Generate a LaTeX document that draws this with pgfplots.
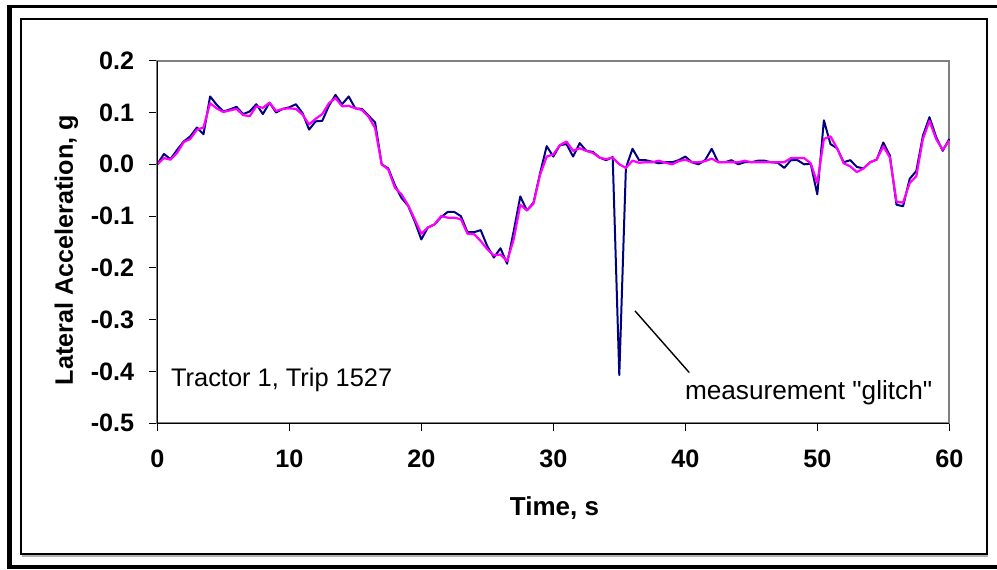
\documentclass[border=0pt]{standalone}
\usepackage{pgfplots}
\pgfplotsset{compat=1.18}
\usepackage{pgfplotstable}
\usepackage{fontspec}
\setmainfont{Liberation Sans}[Ligatures=TeXOff]
\definecolor{navyline}{HTML}{000080}
\definecolor{magline}{HTML}{FF00FF}
\definecolor{plotgray}{HTML}{808080}

\pgfplotstableread{
t v
0 0.000
0.5 0.020
1.0 0.010
1.5 0.028
2.0 0.044
2.5 0.054
3.0 0.071
3.5 0.058
4.0 0.131
4.5 0.115
5.0 0.102
5.5 0.106
6.0 0.111
6.5 0.097
7.0 0.102
7.5 0.116
8.0 0.097
8.5 0.119
9.0 0.100
9.5 0.107
10.0 0.110
10.5 0.116
11.0 0.099
11.5 0.067
12.0 0.083
12.5 0.084
13.0 0.113
13.5 0.134
14.0 0.116
14.5 0.131
15.0 0.108
15.5 0.107
16.0 0.094
16.5 0.081
17.0 0.000
17.5 -0.008
18.0 -0.040
18.5 -0.065
19.0 -0.080
19.5 -0.110
20.0 -0.145
20.5 -0.122
21.0 -0.116
21.5 -0.102
22.0 -0.092
22.5 -0.092
23.0 -0.100
23.5 -0.131
24.0 -0.131
24.5 -0.127
25.0 -0.158
25.5 -0.180
26.0 -0.162
26.5 -0.192
27.0 -0.129
27.5 -0.062
28.0 -0.089
28.5 -0.074
29.0 -0.017
29.5 0.035
30.0 0.015
30.5 0.037
31.0 0.039
31.5 0.015
32.0 0.041
32.5 0.026
33.0 0.024
33.5 0.013
34.0 0.008
34.5 0.014
35.0 -0.407
35.5 -0.007
36.0 0.030
36.5 0.008
37.0 0.008
37.5 0.005
38.0 0.002
38.5 0.004
39.0 0.004
39.5 0.008
40.0 0.015
40.5 0.004
41.0 0.000
41.5 0.008
42.0 0.030
42.5 0.004
43.0 0.004
43.5 0.008
44.0 0.000
44.5 0.004
45.0 0.004
45.5 0.007
46.0 0.007
46.5 0.004
47.0 0.003
47.5 -0.007
48.0 0.008
48.5 0.008
49.0 0.000
49.5 0.001
50.0 -0.058
50.5 0.085
51.0 0.039
51.5 0.031
52.0 0.004
52.5 0.008
53.0 -0.005
53.5 -0.008
54.0 0.004
54.5 0.009
55.0 0.042
55.5 0.017
56.0 -0.078
56.5 -0.081
57.0 -0.028
57.5 -0.013
58.0 0.055
58.5 0.091
59.0 0.053
59.5 0.026
60.0 0.049
}\rawdata

\pgfplotstableread{
t v
0 0.000
0.5 0.012
1.0 0.009
1.5 0.022
2.0 0.043
2.5 0.049
3.0 0.067
3.5 0.071
4.0 0.118
4.5 0.108
5.0 0.101
5.5 0.104
6.0 0.107
6.5 0.095
7.0 0.093
7.5 0.112
8.0 0.109
8.5 0.119
9.0 0.103
9.5 0.107
10.0 0.108
10.5 0.107
11.0 0.096
11.5 0.077
12.0 0.088
12.5 0.097
13.0 0.118
13.5 0.128
14.0 0.112
14.5 0.113
15.0 0.108
15.5 0.105
16.0 0.092
16.5 0.070
17.0 0.000
17.5 -0.010
18.0 -0.045
18.5 -0.058
19.0 -0.079
19.5 -0.106
20.0 -0.134
20.5 -0.122
21.0 -0.116
21.5 -0.100
22.0 -0.103
22.5 -0.103
23.0 -0.106
23.5 -0.134
24.0 -0.135
24.5 -0.148
25.0 -0.164
25.5 -0.176
26.0 -0.174
26.5 -0.187
27.0 -0.145
27.5 -0.078
28.0 -0.089
28.5 -0.076
29.0 -0.020
29.5 0.015
30.0 0.019
30.5 0.037
31.0 0.044
31.5 0.026
32.0 0.031
32.5 0.026
33.0 0.022
33.5 0.013
34.0 0.010
34.5 0.013
35.0 0.000
35.5 -0.007
36.0 0.007
36.5 0.003
37.0 0.004
37.5 0.004
38.0 0.007
38.5 0.003
39.0 0.000
39.5 0.006
40.0 0.009
40.5 0.004
41.0 0.004
41.5 0.006
42.0 0.011
42.5 0.004
43.0 0.004
43.5 0.004
44.0 0.004
44.5 0.007
45.0 0.004
45.5 0.004
46.0 0.004
46.5 0.004
47.0 0.004
47.5 0.004
48.0 0.012
48.5 0.012
49.0 0.012
49.5 0.002
50.0 -0.036
50.5 0.049
51.0 0.054
51.5 0.031
52.0 0.002
52.5 -0.004
53.0 -0.015
53.5 -0.008
54.0 0.004
54.5 0.009
55.0 0.035
55.5 0.013
56.0 -0.072
56.5 -0.074
57.0 -0.036
57.5 -0.023
58.0 0.049
58.5 0.084
59.0 0.049
59.5 0.028
60.0 0.046
}\filtdata

\begin{document}
\begin{tikzpicture}[x=1pt,y=1pt]
% page extent
\path (0,0) rectangle (498.5,284.5);
% outer thick frame (shadow style), kept inside the page
\fill[black] (3.5,0) rectangle (6,282);
\fill[black] (3.5,280.5) rectangle (498.5,282);
\fill[black] (3.5,0) rectangle (498.5,2);
% inner chart-area frame
\draw[black,line width=0.6pt] (10.5,7.5) rectangle (493.5,275);
\draw[black!30,line width=0.6pt] (11,6.5) -- (494,6.5);
\begin{axis}[
  at={(78.65pt,72.85pt)}, anchor=south west,
  scale only axis, width=396pt, height=181.3pt,
  xmin=0, xmax=60, ymin=-0.5, ymax=0.2,
  xtick={0,10,20,30,40,50,60},
  xticklabels={0,10,20,30,40,50,60},
  ytick={-0.5,-0.4,-0.3,-0.2,-0.1,0,0.1,0.2},
  yticklabels={-0.5,-0.4,-0.3,-0.2,-0.1,0.0,0.1,0.2},
  tick align=outside, xtick pos=bottom, ytick pos=left,
  major tick length=4pt,
  tick style={black, line width=0.5pt},
  axis line style={draw=plotgray, line width=1pt},
  ticklabel style={font=\bfseries\fontsize{12.6}{15}\selectfont},
  xticklabel style={yshift=-6pt},
  yticklabel style={xshift=-4pt},
  clip=false,
]
\addplot[navyline, line width=1pt, line join=round] table[x=t,y=v] {\rawdata};
\addplot[magline, line width=1.1pt, line join=round] table[x=t,y=v] {\filtdata};
\draw[black, line width=0.6pt] (rel axis cs:0,1) -- (rel axis cs:0,0) -- (rel axis cs:1,0);
\draw[black, line width=0.7pt] (axis cs:36.19,-0.283) -- (axis cs:40.3,-0.402);
\end{axis}
\node[anchor=base west, inner sep=0, font=\fontsize{12.7}{15}\selectfont] at (85.35,91.15) {Tractor 1, Trip 1527};
\node[anchor=base west, inner sep=0, font=\fontsize{13.1}{15}\selectfont] at (342.3,84.85) {measurement "glitch"};
\node[anchor=base, inner sep=0, font=\bfseries\fontsize{13}{15}\selectfont] at (277.25,27) {Time, s};
\node[anchor=base, rotate=90, inner sep=0, font=\bfseries\fontsize{12.6}{15}\selectfont] at (36.4,159.5) {Lateral Acceleration, g};
\end{tikzpicture}
\end{document}
